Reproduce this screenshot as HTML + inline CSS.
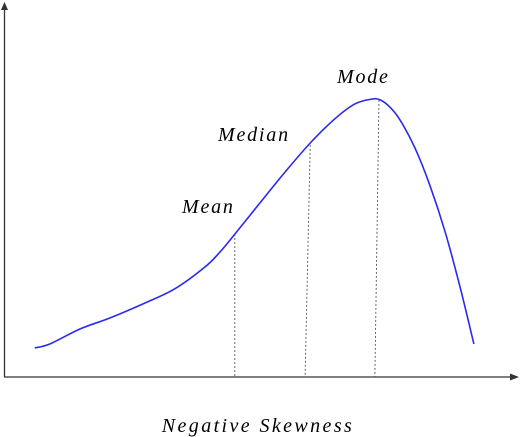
<!DOCTYPE html>
<html><head><meta charset="utf-8"><style>
html,body{margin:0;padding:0;background:#fff;}
svg{display:block;}
text{font-family:"Liberation Serif",serif;font-style:italic;fill:#000;}
</style></head><body>
<svg id="chart" width="520" height="437">
  <g id="axes"></g>
  <g id="marks"></g>
  <g id="labels"></g>
</svg>
<script>
const curveX=[5.8,8.8,14.6,20.5,27.3,33.1,39.0,41.9,44.8,49.7,54.6,59.5,64.3,68.2,71.5,73.1,75.0,77.0,79.9,82.8,85.8,88.7,91.4];
const curveY=[7.8,8.9,12.9,15.9,19.9,23.7,29.6,33.6,38.4,46.8,55.1,62.9,69.4,73.4,74.7,74.5,72.6,69.1,61.6,51.6,39.0,24.2,8.9];
const markerNames=["Mean","Median","Mode"];
const markerTopX=[44.8,59.5,72.9];
const markerTopY=[38.4,62.4,74.5];
const markerBottomX=[44.8,58.5,72.1];

const NS="http://www.w3.org/2000/svg";
const sx=v=>5+v*5.13;
const sy=v=>377-v*3.72;
function mk(tag,attrs,parent){const e=document.createElementNS(NS,tag);for(const k in attrs)e.setAttribute(k,attrs[k]);parent.appendChild(e);return e;}
const axes=document.getElementById('axes'),marks=document.getElementById('marks'),labels=document.getElementById('labels');

const ya=mk('line',{x1:4.5,y1:377,x2:4.5,y2:8,stroke:'#333','stroke-width':1.3},axes);


const yh=mk('polygon',{points:'1,10 4.5,2 8,10',fill:'#333'},axes);


const xa=mk('line',{x1:4,y1:377,x2:512,y2:377,stroke:'#333','stroke-width':1.3},axes);


const xh=mk('polygon',{points:'510,373.5 519,377 510,380.5',fill:'#333'},axes);



const P=curveX.map((x,i)=>[sx(x),sy(curveY[i])]);
let d=`M${P[0][0]},${P[0][1]}`;
for(let i=0;i<P.length-1;i++){
  const p0=P[Math.max(0,i-1)],p1=P[i],p2=P[i+1],p3=P[Math.min(P.length-1,i+2)];
  const c1=[p1[0]+(p2[0]-p0[0])/6,p1[1]+(p2[1]-p0[1])/6];
  const c2=[p2[0]-(p3[0]-p1[0])/6,p2[1]-(p3[1]-p1[1])/6];
  d+=` C${c1[0]},${c1[1]} ${c2[0]},${c2[1]} ${p2[0]},${p2[1]}`;
}
const curve=mk('path',{d:d,fill:'none',stroke:'#2a2af0','stroke-width':1.6},marks);



const labelPos=[[182,213],[218,141],[337,83]];
markerNames.forEach((n,i)=>{
  const l=mk('line',{x1:sx(markerTopX[i]),y1:sy(markerTopY[i]),x2:sx(markerBottomX[i]),y2:377,stroke:'#555','stroke-width':0.9,'stroke-dasharray':'2,2'},marks);
  
  
  const t=mk('text',{x:labelPos[i][0],y:labelPos[i][1],'font-size':20,'letter-spacing':1.8},labels);
  t.textContent=n;
  
  
});
const title=mk('text',{x:258,y:432,'font-size':20,'letter-spacing':2.4,'text-anchor':'middle'},labels);
title.textContent='Negative Skewness';


</script>
</body></html>
